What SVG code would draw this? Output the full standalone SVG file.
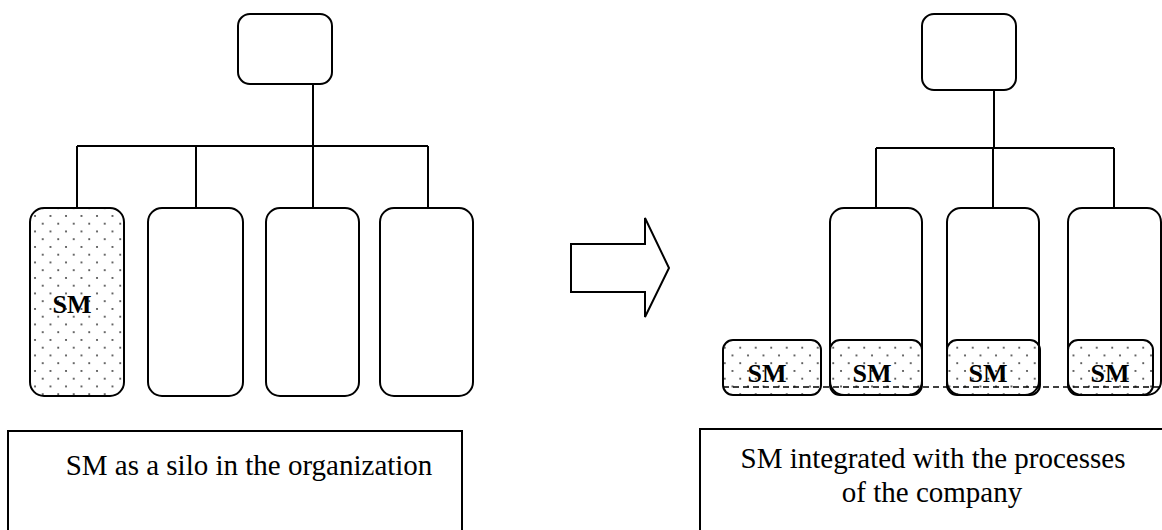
<svg xmlns="http://www.w3.org/2000/svg" width="1162" height="530" viewBox="0 0 1162 530">
<defs>
<pattern id="dots" patternUnits="userSpaceOnUse" x="33" y="214" width="15.5" height="15.5">
<circle cx="2" cy="2" r="1" fill="#333"/>
<circle cx="9.75" cy="9.75" r="1" fill="#333"/>
</pattern>
<style>
.box{fill:#fff;stroke:#000;stroke-width:2}
.dot{fill:url(#dots);stroke:#000;stroke-width:2}
.line{fill:none;stroke:#000;stroke-width:2}
.dash{fill:none;stroke:#000;stroke-width:1.5;stroke-dasharray:6 4}
.sm{font-family:"Liberation Serif",serif;font-weight:bold;font-size:26px;text-anchor:middle;fill:#000}
.cap{font-family:"Liberation Serif",serif;font-size:29px;text-anchor:middle;fill:#000}
</style>
</defs>
<g id="connectors">
<path class="line" d="M313,84 V146 M77,146 H428 M77,146 V208 M196,146 V208 M313,146 V208 M428,146 V208"/>
<path class="line" d="M994,90 V148 M876,148 H1114 M876,148 V208 M993,148 V208 M1114,148 V208"/>
</g>
<g id="left-top"><rect class="box" x="238" y="14" width="94" height="70" rx="12"/></g>
<g id="left-sm"><rect class="dot" x="30" y="208" width="94" height="188" rx="14"/><text class="sm" x="72" y="313">SM</text></g>
<g id="left-2"><rect class="box" x="148" y="208" width="95" height="188" rx="14"/></g>
<g id="left-3"><rect class="box" x="266" y="208" width="93" height="188" rx="14"/></g>
<g id="left-4"><rect class="box" x="380" y="208" width="93" height="188" rx="14"/></g>
<g id="arrow"><polygon class="box" points="571,244 645,244 645,218 669,268 645,317 645,292 571,292"/></g>
<g id="right-top"><rect class="box" x="922" y="14" width="94" height="76" rx="12"/></g>
<g id="right-1"><rect class="box" x="830" y="208" width="92" height="187" rx="14"/></g>
<g id="right-2"><rect class="box" x="947" y="208" width="92" height="187" rx="14"/></g>
<g id="right-3"><rect class="box" x="1068" y="208" width="93" height="187" rx="14"/></g>
<g id="sm-1"><rect class="dot" x="723" y="340" width="98" height="55" rx="10"/><text class="sm" x="767" y="382">SM</text></g>
<g id="sm-2"><rect class="dot" x="830" y="340" width="92" height="55" rx="10"/><text class="sm" x="872" y="382">SM</text></g>
<g id="sm-3"><rect class="dot" x="947" y="340" width="93" height="55" rx="10"/><text class="sm" x="988" y="382">SM</text></g>
<g id="sm-4"><rect class="dot" x="1068" y="340" width="85" height="55" rx="10"/><text class="sm" x="1110" y="382">SM</text></g>
<g id="dashline"><path class="dash" d="M723,387 H1160"/></g>
<g id="caption-left"><rect class="box" x="8" y="431" width="454" height="110"/><text class="cap" x="249" y="475">SM as a silo in the organization</text></g>
<g id="caption-right"><rect class="box" x="700" y="429" width="480" height="110"/><text class="cap" x="933" y="468">SM integrated with the processes</text><text class="cap" x="932" y="502">of the company</text></g>
</svg>
